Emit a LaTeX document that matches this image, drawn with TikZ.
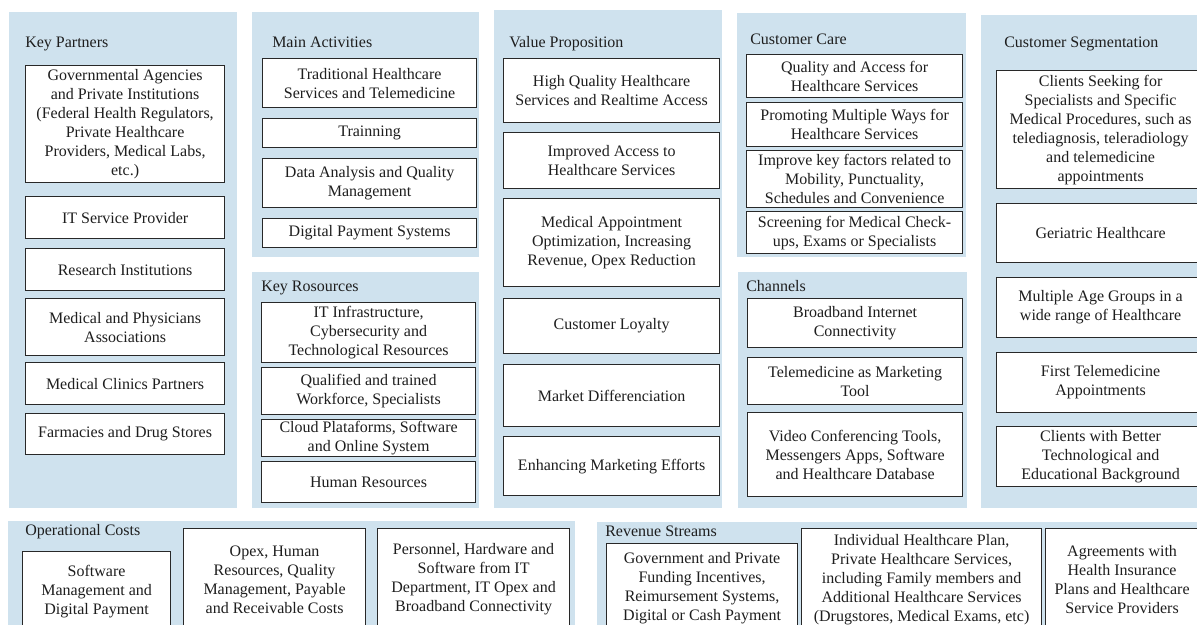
\documentclass[tikz,border=0pt]{standalone}
\usepackage{fontspec}
\setmainfont{Liberation Serif}
\definecolor{panelblue}{RGB}{207,226,238}
\definecolor{inkgrey}{RGB}{40,40,40}
\definecolor{textgrey}{RGB}{30,30,30}
\tikzset{
  panel/.style={fill=panelblue, draw=none, inner sep=0pt, outer sep=0pt},
  cell/.style={draw=inkgrey, line width=0.9pt, fill=white, align=center,
    inner sep=0pt, text=textgrey, font=\fontsize{12}{14.25}\selectfont},
  heading/.style={anchor=base west, inner sep=0pt, text=textgrey,
    font=\fontsize{12}{14.25}\selectfont},
}
% rectangle node given by its corners in pixel units
\newcommand{\rectnode}[6]{%
  \node[cell, anchor=north west, minimum width={(#4-#2)*0.75pt},
    minimum height={(#5-#3)*0.75pt}] (#1) at (#2,#3) {#6};}
\newcommand{\panelnode}[5]{%
  \node[panel, anchor=north west, minimum width={(#4-#2)*0.75pt},
    minimum height={(#5-#3)*0.75pt}] (#1) at (#2,#3) {};}
\begin{document}
\begin{tikzpicture}[x=0.75pt,y=-0.75pt]
\useasboundingbox[fill=white] (0,0) rectangle (1197,625);

% ---------- Key Partners ----------
\panelnode{kp}{9}{12}{237}{508}
\node[heading] (kp-t) at (25,47) {Key Partners};
\rectnode{kp1}{25}{65}{224}{182}{Governmental Agencies\\and Private Institutions\\(Federal Health Regulators,\\Private Healthcare\\Providers, Medical Labs,\\etc.)}
\rectnode{kp2}{25}{196}{224}{238}{IT Service Provider}
\rectnode{kp3}{25}{248}{224}{290}{Research Institutions}
\rectnode{kp4}{25}{298}{224}{355}{Medical and Physicians\\Associations}
\rectnode{kp5}{25}{362}{224}{404}{Medical Clinics Partners}
\rectnode{kp6}{25}{413}{224}{454}{Farmacies and Drug Stores}

% ---------- Main Activities ----------
\panelnode{ma}{252}{12}{479}{257}
\node[heading] (ma-t) at (272,47) {Main Activities};
\rectnode{ma1}{262}{58}{476}{107}{Traditional Healthcare\\Services and Telemedicine}
\rectnode{ma2}{262}{118}{476}{147}{Trainning}
\rectnode{ma3}{262}{158}{476}{207}{Data Analysis and Quality\\Management}
\rectnode{ma4}{262}{218}{476}{247}{Digital Payment Systems}

% ---------- Key Resources ----------
\panelnode{kr}{252}{272}{479}{508}
\node[heading] (kr-t) at (261,291) {Key Rosources};
\rectnode{kr1}{261}{302}{475}{362}{IT Infrastructure,\\Cybersecurity and\\Technological Resources}
\rectnode{kr2}{261}{367}{475}{414}{Qualified and trained\\Workforce, Specialists}
\rectnode{kr3}{261}{419}{475}{456}{Cloud Plataforms, Software\\and Online System}
\rectnode{kr4}{261}{461}{475}{502}{Human Resources}

% ---------- Value Proposition ----------
\panelnode{vp}{494}{10}{722}{508}
\node[heading] (vp-t) at (509,47) {Value Proposition};
\rectnode{vp1}{503}{58}{719}{122}{High Quality Healthcare\\Services and Realtime Access}
\rectnode{vp2}{503}{132}{719}{188}{Improved Access to\\Healthcare Services}
\rectnode{vp3}{503}{198}{719}{286}{Medical Appointment\\Optimization, Increasing\\Revenue, Opex Reduction}
\rectnode{vp4}{503}{298}{719}{353}{Customer Loyalty}
\rectnode{vp5}{503}{364}{719}{426}{Market Differenciation}
\rectnode{vp6}{503}{436}{719}{495}{Enhancing Marketing Efforts}

% ---------- Customer Care ----------
\panelnode{cc}{737}{13}{966}{257}
\node[heading] (cc-t) at (750,44) {Customer Care};
\rectnode{cc1}{746}{54}{962}{97}{Quality and Access for\\Healthcare Services}
\rectnode{cc2}{746}{102}{962}{146}{Promoting Multiple Ways for\\Healthcare Services}
\rectnode{cc3}{746}{150}{962}{207}{Improve key factors related to\\Mobility, Punctuality,\\Schedules and Convenience}
\rectnode{cc4}{746}{211}{962}{253}{Screening for Medical Check-\\ups, Exams or Specialists}

% ---------- Channels ----------
\panelnode{ch}{738}{272}{967}{508}
\node[heading] (ch-t) at (746,291) {Channels};
\rectnode{ch1}{747}{298}{962}{347}{Broadband Internet\\Connectivity}
\rectnode{ch2}{747}{357}{962}{404}{Telemedicine as Marketing\\Tool}
\rectnode{ch3}{747}{412}{962}{496}{Video Conferencing Tools,\\Messengers Apps, Software\\and Healthcare Database}

% ---------- Customer Segmentation ----------
\panelnode{cs}{981}{15}{1210}{508}
\node[heading] (cs-t) at (1004,47) {Customer Segmentation};
\rectnode{cs1}{996}{70}{1204}{188}{Clients Seeking for\\Specialists and Specific\\Medical Procedures, such as\\telediagnosis, teleradiology\\and telemedicine\\appointments}
\rectnode{cs2}{996}{203}{1204}{262}{Geriatric Healthcare}
\rectnode{cs3}{996}{277}{1204}{337}{Multiple Age Groups in a\\wide range of Healthcare}
\rectnode{cs4}{996}{352}{1204}{412}{First Telemedicine\\Appointments}
\rectnode{cs5}{996}{426}{1204}{486}{Clients with Better\\Technological and\\Educational Background}

% ---------- Operational Costs ----------
\panelnode{oc}{8}{521}{575}{640}
\node[heading] (oc-t) at (25,535) {Operational Costs};
\rectnode{oc1}{22}{551}{170}{631}{Software\\Management and\\Digital Payment}
\rectnode{oc2}{183}{528}{365}{630}{Opex, Human\\Resources, Quality\\Management, Payable\\and Receivable Costs}
\rectnode{oc3}{377}{528}{569}{630}{Personnel, Hardware and\\Software from IT\\Department, IT Opex and\\Broadband Connectivity}

% ---------- Revenue Streams ----------
\panelnode{rs}{597}{522}{1210}{640}
\node[heading] (rs-t) at (605,536) {Revenue Streams};
\rectnode{rs1}{606}{543}{797}{632}{Government and Private\\Funding Incentives,\\Reimursement Systems,\\Digital or Cash Payment}
\rectnode{rs2}{801}{528}{1041}{631}{Individual Healthcare Plan,\\Private Healthcare Services,\\including Family members and\\Additional Healthcare Services\\(Drugstores, Medical Exams, etc)}
\rectnode{rs3}{1045}{528}{1198}{630}{Agreements with\\Health Insurance\\Plans and Healthcare\\Service Providers}
\end{tikzpicture}
\end{document}
